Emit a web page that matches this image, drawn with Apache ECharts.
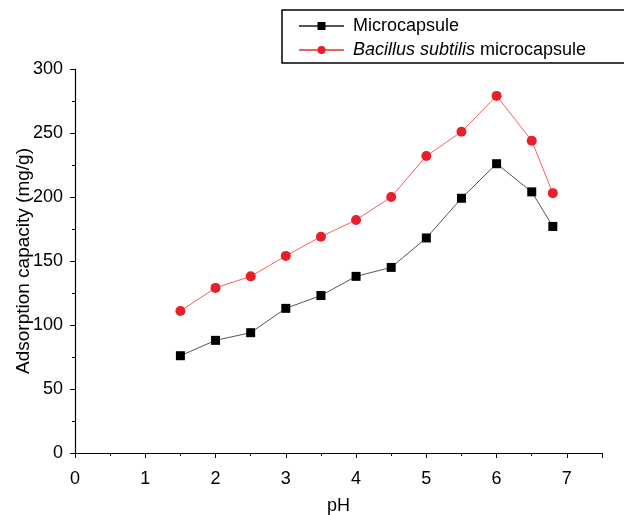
<!DOCTYPE html>
<html><head><meta charset="utf-8">
<script src="https://cdn.jsdelivr.net/npm/echarts@6/dist/echarts.min.js"></script>
<style>html,body{margin:0;padding:0;background:#fff}#c{width:624px;height:515px}</style>
</head><body><div id="c"></div>
<script>
const pH = [1.5, 2, 2.5, 3, 3.5, 4, 4.5, 5, 5.5, 6, 6.5, 6.8];
const microcapsule = [76, 88, 94, 113, 123, 138, 145, 168, 199, 226, 204, 177];
const bacillus = [111, 129, 138, 154, 169, 182, 200, 232, 251, 279, 244, 203];
const seriesNames = ['Microcapsule', 'Bacillus subtilis microcapsule'];

const chart = echarts.init(document.getElementById('c'));
const font = 'Liberation Sans, Arial, sans-serif';
chart.setOption({
  animation: false,
  grid: {left: 75, right: 22, top: 69, bottom: 62, containLabel: false, outerBoundsMode: 'none'},
  legend: {
    orient: 'vertical', left: 282, top: 10,
    padding: [7, 60, 4, 16],
    itemGap: 6, itemWidth: 45, itemHeight: 10,
    borderColor: '#000', borderWidth: 1.5,
    data: seriesNames,
    textStyle: {fontFamily: font, fontSize: 18, lineHeight: 18, color: '#000', padding: [0, 0, 0, 4],
      rich: {i: {fontFamily: font, fontSize: 18, lineHeight: 18, fontStyle: 'italic', color: '#000'}}},
    formatter: function (n) {
      if (n === seriesNames[1]) return '{i|Bacillus subtilis} microcapsule';
      return n;
    }
  },
  xAxis: {
    type: 'value', min: 0, max: 7.5, interval: 1,
    name: 'pH', nameLocation: 'middle', nameGap: 44, nameMoveOverlap: false,
    nameTextStyle: {fontFamily: font, fontSize: 18, color: '#000'},
    axisLine: {onZero: false, lineStyle: {color: '#000', width: 1.2}},
    axisTick: {inside: false, length: 5, lineStyle: {color: '#000'}},
    minorTick: {show: true, splitNumber: 2, length: 3, lineStyle: {color: '#000'}},
    splitLine: {show: false},
    axisLabel: {fontFamily: font, fontSize: 18, color: '#000', margin: 17,
      formatter: v => (Number.isInteger(v) ? String(v) : '')}
  },
  yAxis: {
    type: 'value', min: 0, max: 300, interval: 50,
    name: 'Adsorption capacity (mg/g)', nameLocation: 'middle', nameGap: 42, nameMoveOverlap: false,
    nameTextStyle: {fontFamily: font, fontSize: 19, color: '#000'},
    axisLine: {show: true, lineStyle: {color: '#000', width: 1.2}},
    axisTick: {show: true, length: 5, lineStyle: {color: '#000'}},
    minorTick: {show: true, splitNumber: 2, length: 3, lineStyle: {color: '#000'}},
    splitLine: {show: false},
    axisLabel: {fontFamily: font, fontSize: 18, color: '#000', margin: 12}
  },
  series: [
    {name: seriesNames[0], type: 'line', data: pH.map((x, i) => [x, microcapsule[i]]),
     symbol: 'rect', symbolSize: 9, itemStyle: {color: '#000'},
     lineStyle: {color: '#555', width: 1}},
    {name: seriesNames[1], type: 'line', data: pH.map((x, i) => [x, bacillus[i]]),
     symbol: 'circle', symbolSize: 10, itemStyle: {color: '#e8202a'},
     lineStyle: {color: '#f06060', width: 1}}
  ]
});
</script></body></html>
